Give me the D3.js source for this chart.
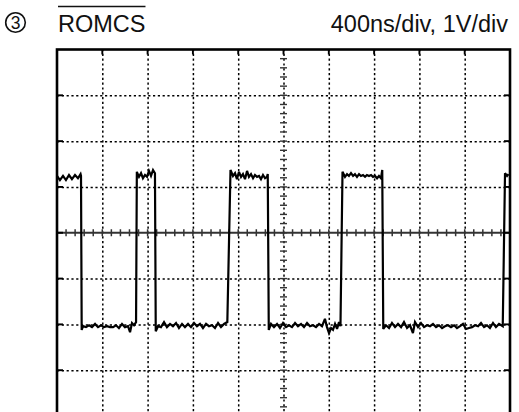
<!DOCTYPE html>
<html>
<head>
<meta charset="utf-8">
<script src="https://cdn.jsdelivr.net/npm/d3@7"></script>
<style>
  body { margin: 0; background: #fff; }
  svg { display: block; font-family: "Liberation Sans", Arial, sans-serif; }
  .grid line { stroke: #000; stroke-width: 1.5; stroke-dasharray: 2.2,2.6; }
  .grid path { display: none; }
</style>
</head>
<body>
<div id="drawingArea"></div>
<script>
// channel label and scope settings
var channelNo = "3";
var signalName = "ROMCS";
var scaleText = "400ns/div, 1V/div";

// screen: 10 divisions of 400ns, 8 divisions of 1V
var timeDomain = [0, 4000];
var voltDomain = [-4, 4];
var timeDivs = d3.range(0, 4001, 400);
var voltDivs = d3.range(-4, 5, 1);

// captured trace: [time ns, volts]
var trace = [
  [0, 1.24], [26, 1.15], [53, 1.24], [79, 1.15], [106, 1.26], [132, 1.17], [159, 1.26], [185, 1.19], [208, 1.28], [212, 1.24],
  [218, -2.12], [230, -2.04], [256, -2.06], [283, -2.02], [309, -2.06], [336, -1.99], [362, -2.06], [389, -2.02], [415, -2.06],
  [442, -2.04], [468, -2.06], [495, -2.06], [521, -2.02], [547, -2.08], [574, -1.99], [600, -2.06], [627, -2.04], [645, -2.17],
  [662, -1.97], [680, -2.02], [698, -1.95],
  [705, 1.33], [724, 1.22], [742, 1.30], [759, 1.19], [777, 1.26], [795, 1.22], [812, 1.35], [830, 1.24], [848, 1.37], [865, 1.30],
  [872, -2.15], [892, -2.04], [918, -2.06], [945, -1.95], [971, -2.06], [998, -1.99], [1024, -2.04], [1051, -1.97], [1077, -2.08],
  [1104, -1.99], [1130, -2.06], [1157, -1.99], [1183, -2.06], [1210, -1.97], [1236, -2.04], [1263, -1.99], [1289, -2.08],
  [1316, -1.99], [1342, -2.04], [1369, -2.02], [1395, -2.08], [1422, -1.97], [1448, -2.06], [1475, -1.99], [1504, -1.95],
  [1532, 1.37], [1554, 1.24], [1572, 1.30], [1589, 1.17], [1607, 1.33], [1625, 1.22], [1642, 1.28], [1660, 1.17], [1678, 1.35],
  [1695, 1.22], [1713, 1.28], [1731, 1.19], [1748, 1.26], [1766, 1.22], [1784, 1.24], [1801, 1.17], [1819, 1.26], [1837, 1.19],
  [1854, 1.22], [1861, 1.28],
  [1870, -2.12], [1890, -1.99], [1916, -2.06], [1943, -1.99], [1969, -2.08], [1996, -1.97], [2022, -2.06], [2049, -2.02],
  [2075, -2.06], [2102, -1.97], [2128, -2.04], [2155, -1.99], [2181, -2.06], [2208, -1.97], [2234, -2.04], [2261, -2.02],
  [2287, -2.06], [2314, -1.99], [2340, -2.04], [2366, -1.88], [2384, -2.06], [2402, -2.19], [2420, -2.08], [2437, -2.12],
  [2455, -1.99], [2473, -2.10], [2490, -1.95], [2503, -2.04],
  [2521, 1.33], [2543, 1.22], [2561, 1.28], [2578, 1.24], [2596, 1.30], [2614, 1.24], [2631, 1.28], [2649, 1.22], [2667, 1.28],
  [2684, 1.24], [2702, 1.26], [2720, 1.22], [2737, 1.26], [2755, 1.24], [2773, 1.26], [2790, 1.22], [2808, 1.24], [2826, 1.19],
  [2843, 1.24], [2861, 1.19], [2872, 1.37],
  [2881, -2.10], [2905, -2.02], [2932, -2.08], [2958, -1.97], [2985, -2.06], [3011, -1.99], [3038, -2.06], [3064, -1.95],
  [3091, -2.08], [3117, -2.02], [3143, -2.19], [3161, -1.95], [3188, -2.06], [3214, -1.97], [3241, -2.06], [3267, -2.02],
  [3294, -2.04], [3320, -1.99], [3347, -2.06], [3373, -2.02], [3400, -2.08], [3426, -2.04], [3453, -2.02], [3479, -2.06],
  [3506, -2.02], [3532, -2.08], [3559, -2.04], [3585, -1.99], [3612, -2.10], [3638, -2.08], [3665, -2.06], [3691, -2.02],
  [3718, -2.04], [3744, -1.97], [3771, -2.06], [3797, -2.02], [3823, -2.08], [3850, -1.97], [3876, -2.06], [3903, -1.99],
  [3936, -2.04],
  [3956, 1.30], [3974, 1.24], [3987, 1.28]
];

var W = 519, H = 412;
var margin = {top: 49.5, right: 9, left: 57},
    width = W - margin.left - margin.right,
    height = 366.5;

var x = d3.scaleLinear().domain(timeDomain).range([0, width]);
var y = d3.scaleLinear().domain(voltDomain).range([height, 0]);

var svg = d3.select("#drawingArea").append("svg")
    .attr("width", W)
    .attr("height", H);

// header
var head = svg.append("g");
head.append("circle")
    .attr("cx", 15.5).attr("cy", 22.5).attr("r", 9.8)
    .attr("fill", "none").attr("stroke", "#111").attr("stroke-width", 1.6);
head.append("text")
    .attr("x", 15.5).attr("y", 28.8)
    .attr("text-anchor", "middle")
    .style("font-size", "17.5px").attr("fill", "#111")
    .text(channelNo);
var nameText = head.append("text")
    .attr("x", 58).attr("y", 32)
    .style("font-size", "23.5px").attr("fill", "#111")
    .text(signalName);
var nw = nameText.node().getComputedTextLength();
head.append("line")
    .attr("x1", 58).attr("x2", 58 + nw)
    .attr("y1", 6.5).attr("y2", 6.5)
    .attr("stroke", "#111").attr("stroke-width", 1.7);
head.append("text")
    .attr("x", 508).attr("y", 32)
    .attr("text-anchor", "end")
    .style("font-size", "23.5px").attr("fill", "#111")
    .text(scaleText);

var g = svg.append("g")
    .attr("transform", "translate(" + margin.left + "," + margin.top + ")");

// dotted graticule
g.append("g")
    .attr("class", "grid")
    .attr("transform", "translate(0," + height + ")")
    .call(d3.axisBottom(x)
        .tickValues(timeDivs.slice(1, -1))
        .tickSize(-height)
        .tickFormat(""));

g.append("g")
    .attr("class", "grid")
    .call(d3.axisLeft(y)
        .tickValues(voltDivs.slice(1, -1).filter(function(v) { return v !== 0; }))
        .tickSize(-width)
        .tickFormat(""));

// centre horizontal axis, solid with minor ticks
var midT = (timeDomain[0] + timeDomain[1]) / 2;
g.append("line")
    .attr("x1", 0).attr("x2", width)
    .attr("y1", y(0)).attr("y2", y(0))
    .attr("stroke", "#333").attr("stroke-width", 1.8);
g.append("g").selectAll("line")
    .data(d3.range(timeDomain[0] + 80, timeDomain[1], 80))
    .enter().append("line")
    .attr("x1", function(d) { return x(d); })
    .attr("x2", function(d) { return x(d); })
    .attr("y1", y(0) - 3.5).attr("y2", y(0) + 3.5)
    .attr("stroke", "#333").attr("stroke-width", 1.5);

// centre vertical axis minor ticks
g.append("g").selectAll("line")
    .data(d3.range(voltDomain[0] + 0.2, voltDomain[1], 0.2))
    .enter().append("line")
    .attr("x1", x(midT) - 3.5).attr("x2", x(midT) + 3.5)
    .attr("y1", function(d) { return y(d); })
    .attr("y2", function(d) { return y(d); })
    .attr("stroke", "#333").attr("stroke-width", 1.4);

// short ticks on the frame
var frameTicks = g.append("g").attr("stroke", "#000").attr("stroke-width", 1.9);
frameTicks.selectAll(".tt")
    .data(timeDivs.slice(1, -1))
    .enter().append("line")
    .attr("x1", function(d) { return x(d); })
    .attr("x2", function(d) { return x(d); })
    .attr("y1", 0).attr("y2", 5);
frameTicks.selectAll(".lt")
    .data(voltDivs.slice(1, -1))
    .enter().append("line")
    .attr("x1", 0).attr("x2", 6)
    .attr("y1", function(d) { return y(d); })
    .attr("y2", function(d) { return y(d); });
frameTicks.selectAll(".rt")
    .data(voltDivs.slice(1, -1))
    .enter().append("line")
    .attr("x1", width - 6).attr("x2", width)
    .attr("y1", function(d) { return y(d); })
    .attr("y2", function(d) { return y(d); });

// the trace
var traceLine = d3.line()
    .x(function(d) { return x(d[0]); })
    .y(function(d) { return y(d[1]); });

g.append("path")
    .datum(trace)
    .attr("d", traceLine)
    .attr("fill", "none")
    .attr("stroke", "#000")
    .attr("stroke-width", 2.2)
    .attr("stroke-linejoin", "miter")
    .attr("stroke-miterlimit", 3);

// frame
g.append("rect")
    .attr("x", 0).attr("y", 0)
    .attr("width", width).attr("height", height)
    .attr("fill", "none")
    .attr("stroke", "#000")
    .attr("stroke-width", 2.6);
</script>
</body>
</html>
